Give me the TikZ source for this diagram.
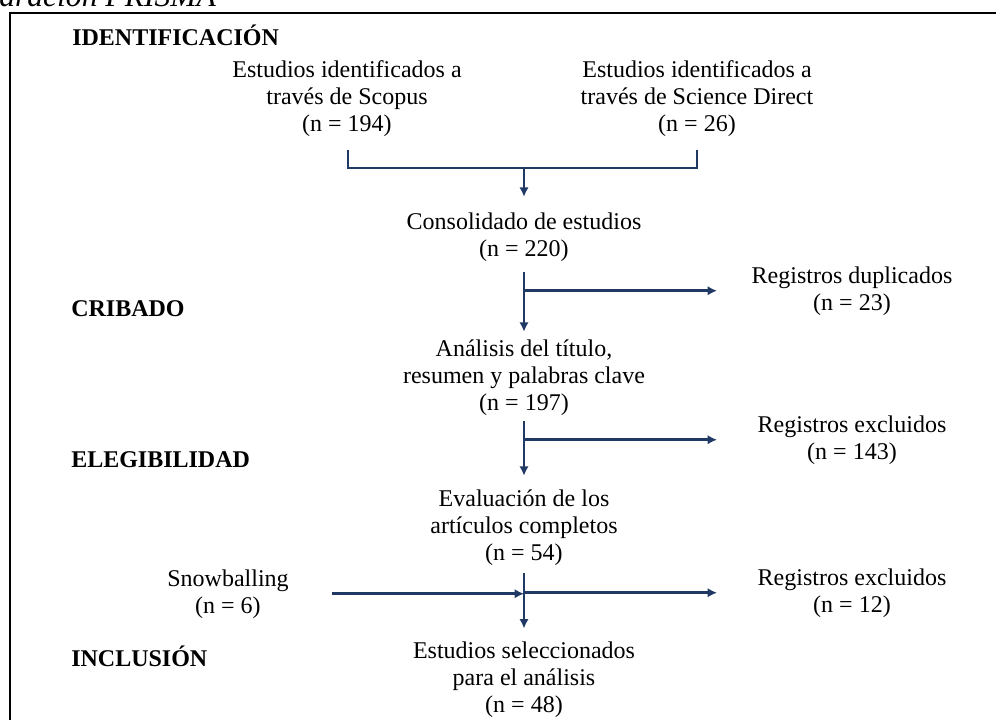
\documentclass[tikz,border=0pt]{standalone}
\usepackage{fontspec}
\setmainfont{Liberation Serif}
\usepackage{tikz}
\usetikzlibrary{arrows.meta}
\definecolor{azulosc}{RGB}{31,56,100}
\tikzset{
  caja/.style={align=center, anchor=base, inner sep=0pt,
    font=\fontsize{18}{20.25}\selectfont},
  fase/.style={anchor=base west, inner sep=0pt,
    font=\fontsize{18}{20.25}\selectfont\bfseries},
  linea/.style={azulosc, line width=2.2pt},
  flecha/.style={linea, -{Latex[length=7pt,width=7pt]}}
}

\begin{document}
\begin{tikzpicture}[x=0.75pt,y=-0.75pt]
  \clip (0,0) rectangle (996,719);
  \draw[line width=1.2pt] (10,740) -- (10,13) -- (1010,13);
  \node[anchor=base west, inner sep=0pt,
    font=\fontsize{23.7}{28}\selectfont\itshape] (titulo) at (-1,6) {aración PRISMA};

  % fases
  \node[fase] (ident) at (72,45)  {IDENTIFICACIÓN};
  \node[fase] (crib)  at (71,316) {CRIBADO};
  \node[fase] (elig)  at (71,467) {ELEGIBILIDAD};
  \node[fase] (incl)  at (71,666) {INCLUSIÓN};

  % cajas (ancladas en la linea base de la ultima linea)
  \node[caja] (scopus) at (347,131) {Estudios identificados a\\través de Scopus\\(n = 194)};
  \node[caja] (scidir) at (697,131) {Estudios identificados a\\través de Science Direct\\(n = 26)};
  \node[caja] (consol) at (524,256) {Consolidado de estudios\\(n = 220)};
  \node[caja] (dup)    at (852,310) {Registros duplicados\\(n = 23)};
  \node[caja] (anal)   at (524,410) {Análisis del título,\\resumen y palabras clave\\(n = 197)};
  \node[caja] (excl1)  at (852,459) {Registros excluidos\\(n = 143)};
  \node[caja] (evalu)  at (524,560) {Evaluación de los\\artículos completos\\(n = 54)};
  \node[caja] (snow)   at (228,613) {Snowballing\\(n = 6)};
  \node[caja] (excl2)  at (852,612) {Registros excluidos\\(n = 12)};
  \node[caja] (selec)  at (524,712) {Estudios seleccionados\\para el análisis\\(n = 48)};

  \coordinate (union) at (524,168);
  \coordinate (tope) at (717,0);

  % conectores
  \draw[linea] ([xshift=0.75pt,yshift=-10pt]scopus.south) |- (union) -| ([yshift=-10pt]scidir.south);
  \draw[flecha, shorten >=11.5pt] (union) -- (consol.north);
  \draw[flecha] (consol.south |- dup.west) -- (dup.west -| tope);
  \draw[flecha, shorten <=8pt, shorten >=5.5pt] (consol.south) -- (anal.north);
  \draw[flecha] (anal.south |- excl1.west) -- (excl1.west -| tope);
  \draw[flecha, shorten <=4pt, shorten >=10pt] (anal.south) -- (evalu.north);
  \draw[flecha] ([xshift=32.5pt]snow.east) -- (evalu.south |- snow.east);
  \draw[flecha] (evalu.south |- excl2.west) -- (excl2.west -| tope);
  \draw[flecha, shorten <=6pt, shorten >=9.5pt] (evalu.south) -- (selec.north);
\end{tikzpicture}
\end{document}
